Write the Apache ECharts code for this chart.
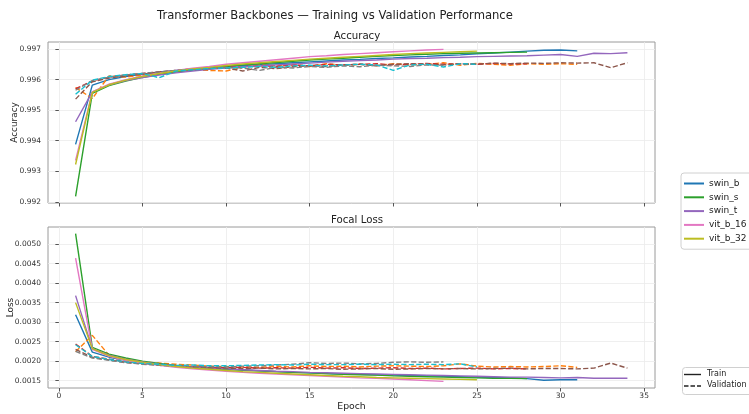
<!DOCTYPE html>
<html>
<head>
<meta charset="utf-8">
<script src="https://cdn.jsdelivr.net/npm/echarts@6/dist/echarts.min.js"></script>
<style>
html,body{margin:0;padding:0;background:#fff;}
#chart{width:749px;height:414px;}
</style>
</head>
<body>
<div id="chart"></div>
<script>
// ---- data ----
const models = ['swin_b', 'swin_s', 'swin_t', 'vit_b_16', 'vit_b_32'];
const trainColors = ['#1f77b4', '#2ca02c', '#9467bd', '#e377c2', '#bcbd22'];
const valColors = ['#ff7f0e', '#d62728', '#8c564b', '#7f7f7f', '#17becf'];

const swin_b_trainAcc = [0.99388, 0.99582, 0.99600, 0.99610, 0.99618, 0.99625, 0.99630, 0.99635, 0.99639, 0.99643, 0.99646, 0.99649, 0.99652, 0.99655, 0.99658, 0.99661, 0.99664, 0.99666, 0.99669, 0.99671, 0.99674, 0.99676, 0.99679, 0.99681, 0.99684, 0.99687, 0.99690, 0.99693, 0.99696, 0.99697, 0.99694];
const swin_b_valAcc = [0.99574, 0.99538, 0.99612, 0.99608, 0.99615, 0.99622, 0.99628, 0.99632, 0.99630, 0.99628, 0.99640, 0.99648, 0.99645, 0.99650, 0.99643, 0.99652, 0.99647, 0.99650, 0.99646, 0.99652, 0.99648, 0.99650, 0.99655, 0.99647, 0.99653, 0.99650, 0.99647, 0.99652, 0.99650, 0.99652, 0.99650];
const swin_s_trainAcc = [0.99218, 0.99555, 0.99580, 0.99595, 0.99607, 0.99617, 0.99625, 0.99632, 0.99638, 0.99643, 0.99648, 0.99652, 0.99656, 0.99660, 0.99664, 0.99667, 0.99670, 0.99673, 0.99676, 0.99679, 0.99681, 0.99683, 0.99685, 0.99686, 0.99687, 0.99688, 0.99689, 0.99690];
const swin_s_valAcc = [0.99570, 0.99595, 0.99608, 0.99615, 0.99620, 0.99625, 0.99630, 0.99635, 0.99638, 0.99640, 0.99642, 0.99645, 0.99643, 0.99648, 0.99645, 0.99650, 0.99648, 0.99650, 0.99652, 0.99648, 0.99650, 0.99653, 0.99650, 0.99652, 0.99650, 0.99653, 0.99651, 0.99652];
const swin_t_trainAcc = [0.99462, 0.99560, 0.99583, 0.99597, 0.99607, 0.99615, 0.99622, 0.99628, 0.99634, 0.99638, 0.99642, 0.99645, 0.99648, 0.99651, 0.99654, 0.99657, 0.99660, 0.99662, 0.99664, 0.99667, 0.99669, 0.99670, 0.99672, 0.99673, 0.99675, 0.99676, 0.99677, 0.99678, 0.99680, 0.99682, 0.99676, 0.99686, 0.99685, 0.99688];
const swin_t_valAcc = [0.99536, 0.99593, 0.99605, 0.99612, 0.99618, 0.99623, 0.99628, 0.99632, 0.99636, 0.99638, 0.99628, 0.99640, 0.99636, 0.99642, 0.99645, 0.99643, 0.99648, 0.99650, 0.99645, 0.99650, 0.99652, 0.99650, 0.99648, 0.99652, 0.99650, 0.99654, 0.99652, 0.99654, 0.99653, 0.99655, 0.99654, 0.99655, 0.99639, 0.99655];
const vit_b_16_trainAcc = [0.99335, 0.99560, 0.99585, 0.99600, 0.99612, 0.99622, 0.99630, 0.99637, 0.99643, 0.99650, 0.99655, 0.99660, 0.99665, 0.99670, 0.99675, 0.99678, 0.99682, 0.99685, 0.99688, 0.99691, 0.99694, 0.99697, 0.99699];
const vit_b_16_valAcc = [0.99565, 0.99597, 0.99608, 0.99615, 0.99620, 0.99625, 0.99630, 0.99633, 0.99637, 0.99640, 0.99638, 0.99630, 0.99640, 0.99638, 0.99643, 0.99640, 0.99645, 0.99642, 0.99647, 0.99645, 0.99643, 0.99648, 0.99647];
const vit_b_32_trainAcc = [0.99322, 0.99558, 0.99583, 0.99598, 0.99610, 0.99620, 0.99628, 0.99635, 0.99640, 0.99646, 0.99651, 0.99655, 0.99659, 0.99663, 0.99667, 0.99670, 0.99673, 0.99676, 0.99679, 0.99682, 0.99685, 0.99687, 0.99689, 0.99691, 0.99693];
const vit_b_32_valAcc = [0.99552, 0.99598, 0.99610, 0.99616, 0.99620, 0.99606, 0.99628, 0.99632, 0.99636, 0.99638, 0.99640, 0.99643, 0.99640, 0.99645, 0.99647, 0.99645, 0.99648, 0.99650, 0.99648, 0.99630, 0.99648, 0.99650, 0.99641, 0.99652, 0.99650];

const swin_b_trainLoss = [0.00319, 0.00223, 0.00210, 0.00202, 0.00196, 0.00192, 0.00188, 0.00185, 0.00182, 0.00179, 0.00177, 0.00175, 0.00173, 0.00171, 0.00170, 0.00168, 0.00167, 0.00166, 0.00165, 0.00164, 0.00163, 0.00162, 0.00161, 0.00160, 0.00159, 0.00158, 0.00157, 0.00155, 0.00151, 0.00152, 0.00152];
const swin_b_valLoss = [0.00224, 0.00266, 0.00215, 0.00205, 0.00198, 0.00195, 0.00192, 0.00190, 0.00187, 0.00186, 0.00185, 0.00184, 0.00186, 0.00185, 0.00188, 0.00186, 0.00187, 0.00185, 0.00187, 0.00188, 0.00187, 0.00186, 0.00188, 0.00193, 0.00187, 0.00185, 0.00186, 0.00185, 0.00186, 0.00188, 0.00184];
const swin_s_trainLoss = [0.00527, 0.00235, 0.00218, 0.00208, 0.00200, 0.00194, 0.00189, 0.00185, 0.00182, 0.00179, 0.00177, 0.00175, 0.00173, 0.00171, 0.00170, 0.00168, 0.00166, 0.00165, 0.00164, 0.00162, 0.00161, 0.00160, 0.00159, 0.00158, 0.00157, 0.00156, 0.00156, 0.00155];
const swin_s_valLoss = [0.00244, 0.00212, 0.00205, 0.00198, 0.00194, 0.00191, 0.00188, 0.00186, 0.00184, 0.00183, 0.00184, 0.00182, 0.00183, 0.00182, 0.00184, 0.00182, 0.00183, 0.00181, 0.00182, 0.00183, 0.00181, 0.00182, 0.00180, 0.00181, 0.00182, 0.00180, 0.00181, 0.00180];
const swin_t_trainLoss = [0.00368, 0.00232, 0.00215, 0.00205, 0.00198, 0.00192, 0.00188, 0.00185, 0.00182, 0.00180, 0.00178, 0.00176, 0.00174, 0.00173, 0.00171, 0.00170, 0.00169, 0.00168, 0.00167, 0.00166, 0.00165, 0.00164, 0.00163, 0.00162, 0.00161, 0.00160, 0.00159, 0.00159, 0.00158, 0.00157, 0.00158, 0.00156, 0.00156, 0.00156];
const swin_t_valLoss = [0.00230, 0.00210, 0.00203, 0.00197, 0.00193, 0.00190, 0.00187, 0.00185, 0.00183, 0.00182, 0.00181, 0.00182, 0.00180, 0.00181, 0.00180, 0.00181, 0.00179, 0.00180, 0.00181, 0.00179, 0.00180, 0.00181, 0.00180, 0.00181, 0.00180, 0.00181, 0.00182, 0.00180, 0.00181, 0.00181, 0.00180, 0.00182, 0.00195, 0.00182];
const vit_b_16_trainLoss = [0.00464, 0.00230, 0.00212, 0.00202, 0.00195, 0.00189, 0.00184, 0.00180, 0.00177, 0.00174, 0.00171, 0.00169, 0.00167, 0.00165, 0.00163, 0.00161, 0.00159, 0.00157, 0.00156, 0.00154, 0.00152, 0.00150, 0.00148];
const vit_b_16_valLoss = [0.00225, 0.00208, 0.00202, 0.00196, 0.00192, 0.00189, 0.00187, 0.00185, 0.00186, 0.00185, 0.00187, 0.00188, 0.00190, 0.00192, 0.00196, 0.00194, 0.00195, 0.00193, 0.00194, 0.00197, 0.00198, 0.00197, 0.00198];
const vit_b_32_trainLoss = [0.00350, 0.00232, 0.00214, 0.00204, 0.00197, 0.00191, 0.00186, 0.00182, 0.00179, 0.00176, 0.00173, 0.00171, 0.00169, 0.00167, 0.00165, 0.00163, 0.00161, 0.00160, 0.00158, 0.00157, 0.00156, 0.00155, 0.00154, 0.00153, 0.00152];
const vit_b_32_valLoss = [0.00242, 0.00212, 0.00204, 0.00198, 0.00194, 0.00192, 0.00189, 0.00190, 0.00188, 0.00188, 0.00189, 0.00190, 0.00191, 0.00190, 0.00192, 0.00191, 0.00191, 0.00192, 0.00191, 0.00192, 0.00191, 0.00192, 0.00191, 0.00193, 0.00185];

const trainAcc = [swin_b_trainAcc, swin_s_trainAcc, swin_t_trainAcc, vit_b_16_trainAcc, vit_b_32_trainAcc];
const valAcc = [swin_b_valAcc, swin_s_valAcc, swin_t_valAcc, vit_b_16_valAcc, vit_b_32_valAcc];
const trainLoss = [swin_b_trainLoss, swin_s_trainLoss, swin_t_trainLoss, vit_b_16_trainLoss, vit_b_32_trainLoss];
const valLoss = [swin_b_valLoss, swin_s_valLoss, swin_t_valLoss, vit_b_16_valLoss, vit_b_32_valLoss];

const xTicks = [0, 5, 10, 15, 20, 25, 30, 35];
const accTicks = [0.992, 0.993, 0.994, 0.995, 0.996, 0.997];
const lossTicks = [0.0015, 0.002, 0.0025, 0.003, 0.0035, 0.004, 0.0045, 0.005];

// ---- chart ----
const FONT = 'DejaVu Sans';
const TICK_FS = 7.5;
const toPairs = arr => arr.map((v, i) => [i + 1, v]);
const series = [];
function addSeries(grid, trainSet, valSet) {
  models.forEach((m, i) => {
    series.push({
      name: m, type: 'line', xAxisIndex: grid, yAxisIndex: grid,
      data: toPairs(trainSet[i]), showSymbol: false, symbol: 'none',
      lineStyle: {color: trainColors[i], width: 1.4}, itemStyle: {color: trainColors[i]}
    });
    series.push({
      name: m + ' (val)', type: 'line', xAxisIndex: grid, yAxisIndex: grid,
      data: toPairs(valSet[i]), showSymbol: false, symbol: 'none',
      lineStyle: {color: valColors[i], width: 1.4, type: [5.2, 2.3]}, itemStyle: {color: valColors[i]}
    });
  });
}
addSeries(0, trainAcc, valAcc);
addSeries(1, trainLoss, valLoss);

const axisCommonX = {
  type: 'value', min: -0.65, max: 35.65,
  axisLine: {show: false},
  axisTick: {show: true, length: 3.5, lineStyle: {color: '#555'}, customValues: xTicks},
  splitLine: {show: true, lineStyle: {color: '#ebebeb', width: 0.8}},
};

const chart = echarts.init(document.getElementById('chart'), null, {renderer: 'canvas'});
chart.setOption({
  animation: false,
  backgroundColor: '#fff',
  textStyle: {fontFamily: FONT},
  title: [
    {text: 'Transformer Backbones — Training vs Validation Performance', left: 330, top: 5, textAlign: 'center',
     textStyle: {fontFamily: FONT, fontSize: 11.6, fontWeight: 'normal', color: '#222'}},
    {text: 'Accuracy', left: 352, top: 26, textAlign: 'center',
     textStyle: {fontFamily: FONT, fontSize: 10.2, fontWeight: 'normal', color: '#222'}},
    {text: 'Focal Loss', left: 352, top: 210, textAlign: 'center',
     textStyle: {fontFamily: FONT, fontSize: 10.2, fontWeight: 'normal', color: '#222'}}
  ],
  grid: [
    {left: 48, top: 42, width: 607, height: 161, show: true, borderColor: '#9a9a9a', borderWidth: 1, backgroundColor: 'transparent', outerBoundsMode: 'none', containLabel: false},
    {left: 48, top: 227, width: 607, height: 161, show: true, borderColor: '#9a9a9a', borderWidth: 1, backgroundColor: 'transparent', outerBoundsMode: 'none', containLabel: false}
  ],
  xAxis: [
    Object.assign({}, axisCommonX, {gridIndex: 0, axisLabel: {show: false}}),
    Object.assign({}, axisCommonX, {gridIndex: 1,
      name: 'Epoch', nameLocation: 'middle', nameGap: 14, nameMoveOverlap: false,
      nameTextStyle: {fontFamily: FONT, fontSize: 9.3, color: '#222', verticalAlign: 'top'},
      axisLabel: {show: true, customValues: xTicks, fontFamily: FONT, fontSize: TICK_FS, color: '#333', margin: 4, formatter: v => String(v)}})
  ],
  yAxis: [
    {type: 'value', gridIndex: 0, min: 0.99196, max: 0.99723,
     axisLine: {show: false},
     axisTick: {show: true, length: 3.5, lineStyle: {color: '#555'}, customValues: accTicks},
     splitLine: {show: true, lineStyle: {color: '#ebebeb', width: 0.8}},
     axisLabel: {customValues: accTicks, fontFamily: FONT, fontSize: TICK_FS, color: '#333', margin: 7, formatter: v => v.toFixed(3)},
     name: 'Accuracy', nameLocation: 'middle', nameGap: 29, nameRotate: 90, nameMoveOverlap: false,
     nameTextStyle: {fontFamily: FONT, fontSize: 8.9, color: '#222'}},
    {type: 'value', gridIndex: 1, min: 0.00131, max: 0.00544,
     axisLine: {show: false},
     axisTick: {show: true, length: 3.5, lineStyle: {color: '#555'}, customValues: lossTicks},
     splitLine: {show: true, lineStyle: {color: '#ebebeb', width: 0.8}},
     axisLabel: {customValues: lossTicks, fontFamily: FONT, fontSize: TICK_FS, color: '#333', margin: 7, formatter: v => v.toFixed(4)},
     name: 'Loss', nameLocation: 'middle', nameGap: 33, nameRotate: 90, nameMoveOverlap: false,
     nameTextStyle: {fontFamily: FONT, fontSize: 8.9, color: '#222'}}
  ],
  legend: {
    data: models, orient: 'vertical', left: 681, top: 173,
    icon: 'rect', itemWidth: 20, itemHeight: 2, itemGap: 2.8, itemStyle: {borderWidth: 0},
    padding: [5, 6, 5, 3],
    borderColor: '#d0d0d0', borderWidth: 1, borderRadius: 3,
    textStyle: {fontFamily: FONT, fontSize: 9, color: '#222', lineHeight: 11},
    selectedMode: false
  },
  graphic: [
    {type: 'rect', left: 682, top: 367, shape: {width: 80, height: 27, r: 3}, style: {fill: '#fff', stroke: '#d0d0d0', lineWidth: 1}, z: 100},
    {type: 'line', shape: {x1: 684, y1: 374.5, x2: 701, y2: 374.5}, style: {stroke: '#222', lineWidth: 1.4}, z: 101},
    {type: 'line', shape: {x1: 684, y1: 386, x2: 701, y2: 386}, style: {stroke: '#222', lineWidth: 1.4, lineDash: [4.5, 2]}, z: 101},
    {type: 'text', left: 707, top: 369.5, style: {text: 'Train', font: '8px "DejaVu Sans"', fill: '#222'}, z: 101},
    {type: 'text', left: 707, top: 381, style: {text: 'Validation', font: '8px "DejaVu Sans"', fill: '#222'}, z: 101}
  ],
  series: series
});
</script>
</body>
</html>
